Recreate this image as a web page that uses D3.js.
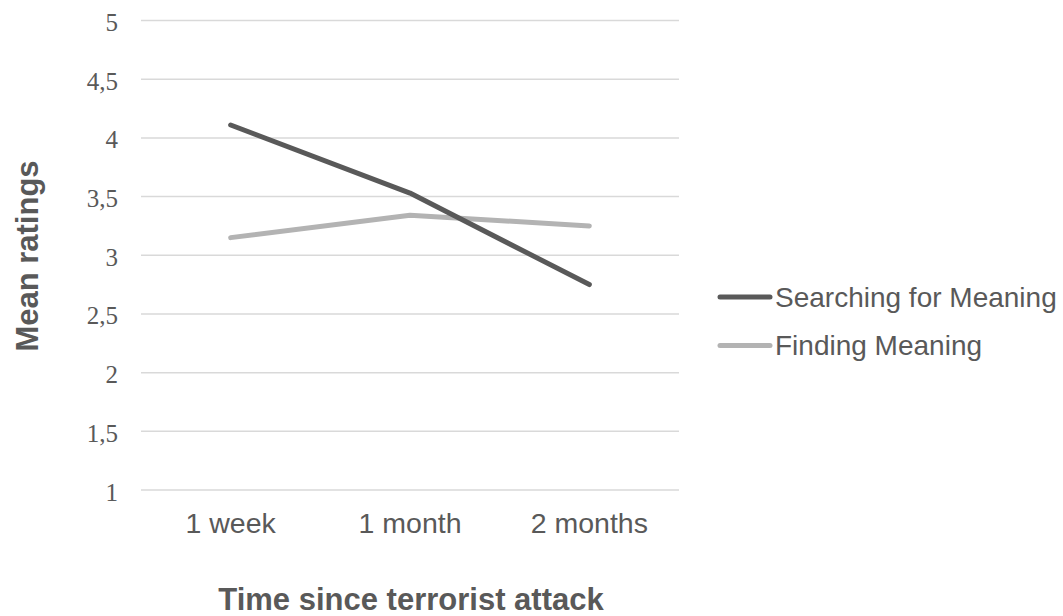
<!DOCTYPE html>
<html>
<head>
<meta charset="utf-8">
<script src="https://cdn.jsdelivr.net/npm/d3@7"></script>
<style>
  html, body { margin: 0; padding: 0; background: #fff; }
  svg { display: block; }
</style>
</head>
<body>
<svg id="chart" width="1063" height="616"></svg>
<script>
// Time points after the attack
const categories = ["1 week", "1 month", "2 months"];
// Mean ratings per series
const searchingValues = [4.11, 3.53, 2.75];
const findingValues = [3.15, 3.34, 3.25];
const seriesNames = ["Searching for Meaning", "Finding Meaning"];
const yTicks = [1, 1.5, 2, 2.5, 3, 3.5, 4, 4.5, 5];

const series = [
  { name: seriesNames[0], values: searchingValues, color: "#595959" },
  { name: seriesNames[1], values: findingValues, color: "#b3b3b3" }
];

const svg = d3.select("#chart");
const plot = { left: 141, right: 679, top: 20.5, bottom: 490 };

const x = d3.scaleBand().domain(categories).range([plot.left, plot.right]);
const y = d3.scaleLinear().domain([1, 5]).range([plot.bottom, plot.top]);

const fmt = v => String(v).replace(".", ",");

// Horizontal gridlines
svg.append("g")
  .selectAll("line")
  .data(yTicks)
  .join("line")
  .attr("x1", plot.left)
  .attr("x2", plot.right)
  .attr("y1", d => y(d))
  .attr("y2", d => y(d))
  .attr("stroke", "#d9d9d9")
  .attr("stroke-width", 1.5);

// Y axis tick labels
const yAxis = svg.append("g")
  .attr("transform", `translate(${plot.left - 23},0)`)
  .call(d3.axisLeft(y).tickValues(yTicks).tickFormat(fmt).tickSize(0).tickPadding(0));
yAxis.select(".domain").remove();
yAxis.selectAll("text")
  .attr("dy", "0.4em")
  .attr("font-family", "'Liberation Serif', 'Times New Roman', serif")
  .attr("font-size", 25)
  .attr("fill", "#595959");

// X axis category labels
const xAxis = svg.append("g")
  .attr("transform", `translate(0,${plot.bottom + 23})`)
  .call(d3.axisBottom(x).tickSize(0).tickPadding(0));
xAxis.select(".domain").remove();
xAxis.selectAll("text")
  .attr("font-family", "'Liberation Sans', Arial, sans-serif")
  .attr("font-size", 28.5)
  .attr("fill", "#595959");

// Series lines
const line = d3.line()
  .x((d, i) => x(categories[i]) + x.bandwidth() / 2)
  .y(d => y(d));

svg.append("g")
  .selectAll("path")
  .data(series.slice().reverse())
  .join("path")
  .attr("d", d => line(d.values))
  .attr("fill", "none")
  .attr("stroke", d => d.color)
  .attr("stroke-width", 5)
  .attr("stroke-linecap", "round")
  .attr("stroke-linejoin", "round");

// Axis titles
svg.append("text")
  .attr("x", 411)
  .attr("y", 610)
  .attr("text-anchor", "middle")
  .attr("font-family", "'Liberation Sans', Arial, sans-serif")
  .attr("font-weight", "bold")
  .attr("font-size", 31)
  .attr("fill", "#595959")
  .text("Time since terrorist attack");

svg.append("text")
  .attr("transform", `translate(38,256) rotate(-90)`)
  .attr("text-anchor", "middle")
  .attr("font-family", "'Liberation Sans', Arial, sans-serif")
  .attr("font-weight", "bold")
  .attr("font-size", 31)
  .attr("fill", "#595959")
  .text("Mean ratings");

// Legend
const legend = svg.append("g")
  .selectAll("g")
  .data(series)
  .join("g")
  .attr("transform", (d, i) => `translate(718,${297 + i * 48.5})`);

legend.append("line")
  .attr("x1", 2).attr("x2", 52)
  .attr("y1", 0).attr("y2", 0)
  .attr("stroke", d => d.color)
  .attr("stroke-width", 5)
  .attr("stroke-linecap", "round");

legend.append("text")
  .attr("x", 57)
  .attr("y", 0)
  .attr("dy", "0.35em")
  .attr("font-family", "'Liberation Sans', Arial, sans-serif")
  .attr("font-size", 28)
  .attr("fill", "#595959")
  .text(d => d.name);
</script>
</body>
</html>
